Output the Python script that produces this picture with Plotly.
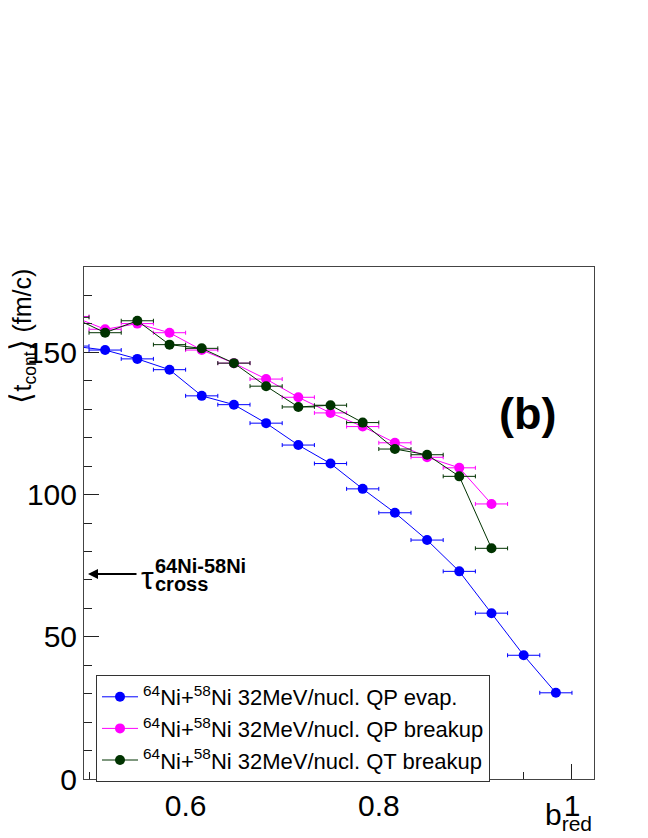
import plotly.graph_objects as go

# ---- data ----
b_red = [0.48333, 0.51667, 0.55, 0.58333, 0.61667, 0.65, 0.68333, 0.71667,
         0.75, 0.78333, 0.81667, 0.85, 0.88333, 0.91667, 0.95, 0.98333]
bin_half = [1 / 60] * len(b_red)

qp_evap = [152.2, 150.8, 147.7, 143.9, 134.7, 131.6, 125.1, 117.4,
           110.9, 102.0, 93.6, 84.0, 73.0, 58.3, 43.5, 30.3]
qp_breakup = [162.6, 158.1, 160.1, 156.9, 150.8, 146.2, 140.6, 134.2,
              128.7, 123.9, 118.2, 113.1, 109.4, 96.7]
qt_breakup = [162.3, 156.9, 161.1, 152.7, 151.4, 146.2, 138.1, 130.8,
              131.4, 125.3, 116.0, 114.0, 106.4, 81.1]

names = [
    "<sup>64</sup>Ni+<sup>58</sup>Ni 32MeV/nucl. QP evap.",
    "<sup>64</sup>Ni+<sup>58</sup>Ni 32MeV/nucl. QP breakup",
    "<sup>64</sup>Ni+<sup>58</sup>Ni 32MeV/nucl. QT breakup",
]
colors = ["#0000ff", "#ff00ff", "#003300"]
series = [qp_evap, qp_breakup, qt_breakup]

x_ticks = [0.6, 0.8, 1.0]
x_ticktext = ["0.6", "0.8", "1"]
y_ticks = [0, 50, 100, 150]

FONT = "Liberation Sans, Arial, Helvetica, sans-serif"

# page geometry (the page body has an 8 px margin)
PAGE_W, PAGE_H, OFF = 648, 838, 8
W, H = PAGE_W - OFF, PAGE_H - OFF
L, R, T, B = 84, 594, 267, 779   # plot area in page pixels


def px(xp):
    return (xp - L) / (R - L)


def py(yp):
    return (B - yp) / (B - T)


fig = go.Figure()
for ys, nm, col in zip(series, names, colors):
    n = len(ys)
    fig.add_trace(go.Scatter(
        x=b_red[:n], y=ys, name=nm, mode="lines+markers",
        line=dict(color=col, width=1),
        marker=dict(color=col, size=10, symbol="circle", line=dict(width=0)),
        error_x=dict(type="data", array=bin_half[:n], color=col,
                     thickness=1, width=2),
    ))

axis_common = dict(
    showgrid=False, zeroline=False, showline=True, mirror=True,
    linecolor="#444444", linewidth=1,
    ticks="inside", ticklen=15, tickwidth=1, tickcolor="#222222",
    tickfont=dict(family=FONT, size=30, color="black"),
)

fig.update_xaxes(
    range=[0.4948, 1.0228], tickmode="array", tickvals=x_ticks,
    ticktext=x_ticktext,
    minor=dict(tickmode="linear", tick0=0.5, dtick=0.05, ticklen=7.5,
               ticks="inside", tickcolor="#222222"),
    **axis_common,
)
fig.update_yaxes(
    range=[0, 180], tickmode="array", tickvals=y_ticks,
    minor=dict(tickmode="linear", tick0=0, dtick=10, ticklen=7.5,
               ticks="inside", tickcolor="#222222"),
    **axis_common,
)

annotations = [
    # y-axis title (ROOT style, aligned to top)
    dict(text="<span style='font-size:30px'>⟨</span>t<sub>cont</sub>"
              "<span style='font-size:30px'>⟩</span> (fm/c)",
         xref="paper", yref="paper", x=px(21), y=1.0,
         xanchor="center", yanchor="top", textangle=-90, showarrow=False,
         font=dict(family=FONT, size=25, color="black")),
    # x-axis title at bottom right
    dict(text="b<sub>red</sub>", xref="paper", yref="paper",
         x=1.0, y=py(796), xanchor="right", yanchor="top", showarrow=False,
         font=dict(family=FONT, size=30, color="black")),
    # panel label
    dict(text="<b>(b)</b>", xref="paper", yref="paper", x=px(527), y=py(413),
         xanchor="center", yanchor="middle", showarrow=False,
         font=dict(family=FONT, size=45, color="black")),
    # arrow
    dict(text="", xref="paper", yref="paper", x=px(88), y=py(574),
         ax=50, ay=0, showarrow=True, arrowhead=2, arrowsize=1,
         arrowwidth=2, arrowcolor="black", standoff=0),
    dict(text="τ", xref="paper", yref="paper", x=px(139), y=py(578),
         xanchor="left", yanchor="middle", showarrow=False,
         font=dict(family=FONT, size=32, color="black")),
    dict(text="<b>64Ni-58Ni</b>", xref="paper", yref="paper", x=px(153),
         y=py(566), xanchor="left", yanchor="middle", showarrow=False,
         font=dict(family=FONT, size=20, color="black")),
    dict(text="<b>cross</b>", xref="paper", yref="paper", x=px(153),
         y=py(584), xanchor="left", yanchor="middle", showarrow=False,
         font=dict(family=FONT, size=20, color="black")),
]

fig.update_layout(
    width=W, height=H,
    margin=dict(l=L - OFF, r=PAGE_W - R, t=T - OFF, b=PAGE_H - B, pad=0),
    paper_bgcolor="white", plot_bgcolor="white",
    showlegend=True,
    legend=dict(x=px(96), y=py(675), xanchor="left", yanchor="top",
                bgcolor="white", bordercolor="#333333", borderwidth=1,
                font=dict(family=FONT, size=22, color="black"),
                itemwidth=36, tracegroupgap=0),
    annotations=annotations,
    font=dict(family=FONT),
)

fig.write_html("out.html")
